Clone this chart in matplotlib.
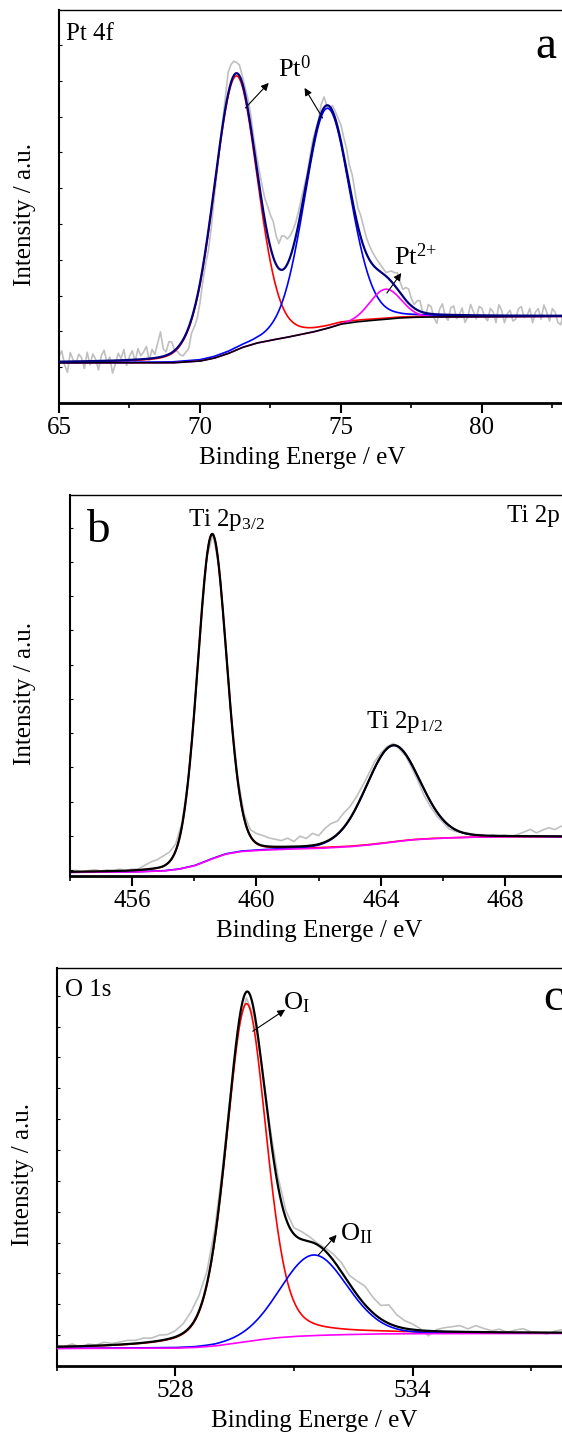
import numpy as np
import matplotlib.pyplot as plt
from matplotlib.ticker import MultipleLocator

plt.rcParams['font.family'] = ['Liberation Serif', 'DejaVu Serif']
plt.rcParams['mathtext.fontset'] = 'custom'
plt.rcParams['mathtext.rm'] = 'Liberation Serif'
plt.rcParams['mathtext.it'] = 'Liberation Serif:italic'

# ---------------- (a) Pt 4f ----------------
pt_start, pt_step = 65.0, 0.1
# raw counts minus fit envelope
pt_resid = [0.15, 0.3, -0.1, -0.3, 0.25, 0.05, -0.05, 0.2, 0.1, -0.2,
            0.25, -0.1, 0.2, 0.05, -0.25, 0.15, 0.3, -0.05, 0.1, -0.35,
            -0.1, 0.2, 0.05, 0.3, -0.15, 0.1, 0.25, -0.05, 0.3, 0.1,
            0.2, 0.35, -0.05, 0.25, 0.1, 0.4, 0.7, 0.2, 0.1, 0.35,
            0.3, 0.0, -0.1, -0.3, -0.45, -0.5, -0.6, -0.4, -0.5, -0.6,
            -0.55, -0.4, -0.4, -0.55, -0.5, -0.3, -0.2, 0.0, 0.1, 0.3,
            0.6, 0.5, 0.4, 0.3, 0.3, 0.2, 0.2, 0.3, 0.35, 0.25,
            0.3, 0.4, 0.5, 0.6, 0.8, 0.9, 1.0, 0.8, 0.7, 0.95,
            0.9, 0.7, 0.6, 0.5, 0.4, 0.35, 0.3, 0.2, 0.1, 0.15,
            0.2, 0.1, 0.05, 0.25, 0.3, 0.0, -0.1, 0.15, 0.2, 0.3,
            0.45, 0.5, 0.6, 0.55, 0.7, 0.6, 0.5, 0.6, 0.55, 0.45,
            0.4, 0.35, 0.3, 0.25, 0.2, 0.15, 0.1, 0.2, 0.3, 0.35,
            0.45, 0.3, 0.2, 0.35, 0.4, 0.2, 0.1, 0.25, 0.3, 0.0,
            -0.1, 0.25, 0.2, -0.1, -0.25, 0.15, 0.3, -0.05, -0.15, 0.2,
            0.25, -0.1, 0.0, 0.2, -0.2, -0.05, 0.3, 0.1, -0.1, 0.25,
            0.2, -0.05, -0.15, 0.2, 0.1, -0.2, 0.3, 0.15, -0.2, 0.05,
            0.15, -0.15, -0.1, 0.2, 0.25, -0.05, 0.0, 0.2, -0.2, 0.1,
            0.2, -0.1, 0.3, 0.1, -0.15, 0.2, 0.1, -0.2, -0.25, 0.15,
            0.2, -0.1, 0.05, 0.25, -0.1]
pt_bg_e = [65, 69, 70, 70.5, 71, 71.5, 72, 72.5, 73, 73.5, 74, 74.5, 75, 75.5,
           76, 76.5, 77, 77.5, 78, 83.5]
pt_bg_y = [1.12, 1.12, 1.17, 1.25, 1.38, 1.55, 1.67, 1.75, 1.82, 1.90, 1.98,
           2.08, 2.20, 2.26, 2.30, 2.33, 2.37, 2.39, 2.40, 2.42]
pt_center = [71.27, 74.5, 76.58]
pt_height = [7.66, 6.15, 0.84]
pt_hw_left = [0.92, 0.95, 0.65]
pt_hw_right = [0.90, 0.95, 0.65]
pt_eta = [0.15, 0.15, 0.0]

# ---------------- (b) Ti 2p ----------------
ti_start, ti_step = 454.0, 0.2
ti_resid = [0.02, 0.04, -0.01, 0.03, 0.05, 0.01, 0.04, 0.02, 0.05, 0.0,
            0.04, 0.03, 0.12, 0.2, 0.24, 0.3, 0.28, 0.2, 0.1, 0.0,
            -0.05, -0.05, 0.0, 0.0, 0.05, 0.05, 0.05, 0.1, 0.12, 0.18,
            0.28, 0.3, 0.25, 0.22, 0.18, 0.25, 0.15, 0.3, 0.22, 0.35,
            0.25, 0.4, 0.45, 0.38, 0.42, 0.35, 0.3, 0.25, 0.2, 0.18,
            0.1, 0.05, 0.05, -0.05, -0.05, -0.1, -0.12, -0.18, -0.15, -0.12,
            -0.08, -0.1, -0.05, 0.0, 0.03, 0.0, 0.02, -0.02, 0.03, 0.0,
            0.02, -0.02, 0.05, 0.12, 0.2, 0.1, 0.18, 0.25, 0.2, 0.3,
            0.22, 0.28, 0.25]
ti_bg_e = [454, 456, 457, 457.5, 458, 458.5, 459, 459.5, 460, 461, 462, 463,
           463.5, 464, 464.5, 465, 465.5, 466, 467, 468, 470.5]
ti_bg_y = [0.93, 0.94, 0.97, 1.02, 1.12, 1.30, 1.46, 1.54, 1.57, 1.61, 1.63,
           1.68, 1.72, 1.77, 1.83, 1.88, 1.91, 1.93, 1.96, 1.97, 1.97]
ti_center = [458.57, 464.39]
ti_height = [9.49, 2.82]
ti_hw_left = [0.55, 1.02]
ti_hw_right = [0.55, 1.02]
ti_eta = [0.1, 0.1]

# ---------------- (c) O 1s ----------------
o_start, o_step = 525.0, 0.2
o_resid = [0.05, 0.0, 0.08, -0.04, 0.06, 0.02, 0.1, 0.05, 0.08, 0.12,
           0.1, 0.15, 0.12, 0.18, 0.15, 0.2, 0.3, 0.45, 0.5, 0.4,
           0.3, 0.2, 0.05, -0.1, -0.2, -0.15, 0.05, 0.2, 0.3, 0.25,
           0.2, 0.25, 0.15, 0.05, 0.1, 0.2, 0.3, 0.27, 0.45, 0.6,
           0.5, 0.44, 0.6, 0.38, 0.25, 0.18, 0.05, -0.16, 0.05, 0.12,
           0.16, 0.2, 0.1, 0.21, 0.12, 0.05, 0.1, 0.0, 0.08, 0.12,
           0.02, 0.0, -0.05, 0.05, 0.1, 0.04, 0.08, 0.02]
o_bg_e = [525, 528, 528.5, 529, 529.5, 530, 530.5, 531, 531.5, 532, 533, 534, 538.5]
o_bg_y = [0.57, 0.58, 0.60, 0.65, 0.74, 0.83, 0.91, 0.96, 0.99, 1.01, 1.04, 1.05, 1.06]
o_center = [529.8, 531.5]
o_height = [10.95, 2.61]
o_hw_left = [0.6, 1.0]
o_hw_right = [0.6, 1.0]
o_eta = [0.3, 0.1]


def pvoigt(x, c, h, wl, wr, eta):
    """Pseudo-Voigt line with separate half widths on each side."""
    w = np.where(x < c, wl, wr)
    u = (x - c) / w
    return h * ((1 - eta) * np.exp(-np.log(2) * u ** 2) + eta / (1 + u ** 2))


def draw_spectrum(ax, xlim, start, step, resid, bg_e, bg_y,
                  center, height, hw_l, hw_r, eta,
                  comp_colors, bg_color, env_color):
    params = list(zip(center, height, hw_l, hw_r, eta))
    x = np.linspace(xlim[0], xlim[1], 1200)
    bg = np.interp(x, bg_e, bg_y)
    comps = [pvoigt(x, *p) for p in params]
    env = bg + np.sum(comps, axis=0)

    # measured trace = fit envelope + residual
    xr = start + step * np.arange(len(resid))
    env_r = np.interp(xr, bg_e, bg_y) + np.sum([pvoigt(xr, *p) for p in params], axis=0)
    ax.plot(xr, env_r + np.array(resid), color='#c0c0c0', lw=1.2, zorder=1)

    for comp, col in zip(comps, comp_colors):
        ax.plot(x, bg + comp, color=col, lw=1.2, zorder=2)
    ax.plot(x, bg, color=bg_color, lw=1.2, zorder=3)
    ax.plot(x, env, color=env_color, lw=1.6, zorder=4)


def style_axes(ax, xlim, ylim, major, minor, yticks, xlab_x, ylab_x):
    ax.set_xlim(*xlim)
    ax.set_ylim(*ylim)
    ax.xaxis.set_major_locator(MultipleLocator(major))
    ax.xaxis.set_minor_locator(MultipleLocator(minor))
    ax.set_yticks(yticks)
    ax.set_yticklabels([])
    ax.tick_params(axis='x', which='major', direction='out', length=7, width=1.5,
                   labelsize=18, pad=3)
    ax.tick_params(axis='x', which='minor', direction='out', length=3.5, width=1.2)
    ax.tick_params(axis='y', which='major', direction='in', length=2.5, width=0.8)
    ax.spines['bottom'].set_linewidth(2.0)
    ax.spines['left'].set_linewidth(1.5)
    ax.spines['top'].set_linewidth(1.0)
    ax.spines['right'].set_visible(False)
    ax.set_xlabel('Binding Energe / eV', fontsize=18, labelpad=6)
    ax.xaxis.label.set_x(xlab_x)
    ax.set_ylabel('Intensity / a.u.', fontsize=18)
    ax.yaxis.set_label_coords(ylab_x, 0.48)


def arrow(ax, tail, head):
    ax.annotate('', xy=head, xytext=tail,
                arrowprops=dict(arrowstyle='-|>', color='k', lw=0.8,
                                mutation_scale=11, shrinkA=0, shrinkB=0))


fig = plt.figure(figsize=(5.62, 14.36), dpi=100)

# (a)
ax_a = fig.add_axes([0.105, 0.7194, 0.928, 0.2737])
draw_spectrum(ax_a, (65, 83.5), pt_start, pt_step, pt_resid, pt_bg_e, pt_bg_y,
              pt_center, pt_height, pt_hw_left, pt_hw_right, pt_eta,
              ['red', 'blue', 'magenta'], 'black', '#000080')
style_axes(ax_a, (65, 83.5), (0, 10.98), 5, 2.5, np.arange(1, 11), 0.466, -0.044)
ax_a.text(65.25, 10.14, 'Pt 4f', fontsize=18)
ax_a.text(81.9, 9.64, 'a', fontsize=34)
ax_a.text(72.77, 9.1, r'Pt$^\mathregular{0}$', fontsize=19)
ax_a.text(76.88, 3.85, r'Pt$^\mathregular{2{+}}$', fontsize=19)
arrow(ax_a, (71.61, 8.24), (72.44, 8.94))
arrow(ax_a, (74.35, 7.96), (73.71, 8.80))
arrow(ax_a, (76.63, 3.07), (77.14, 3.63))

# (b)
ax_b = fig.add_axes([0.1244, 0.3900, 0.913, 0.2653])
draw_spectrum(ax_b, (454, 470.5), ti_start, ti_step, ti_resid, ti_bg_e, ti_bg_y,
              ti_center, ti_height, ti_hw_left, ti_hw_right, ti_eta,
              ['red', 'blue'], 'magenta', 'black')
style_axes(ax_b, (454, 470.5), (0.825, 11.96), 4, 2, np.arange(1, 12), 0.485, -0.066)
ax_b.text(454.52, 10.59, 'b', fontsize=34)
ax_b.text(468.05, 11.18, 'Ti 2p', fontsize=18)
ax_b.text(457.8, 11.04, r'Ti 2p$_\mathregular{3/2}$', fontsize=18)
ax_b.text(463.51, 5.14, r'Ti 2p$_\mathregular{1/2}$', fontsize=18)

# (c)
ax_c = fig.add_axes([0.1007, 0.0487, 0.950, 0.2772])
draw_spectrum(ax_c, (525, 538.5), o_start, o_step, o_resid, o_bg_e, o_bg_y,
              o_center, o_height, o_hw_left, o_hw_right, o_eta,
              ['red', 'blue'], 'magenta', 'black')
style_axes(ax_c, (525, 538.5), (0, 12.9), 6, 3, np.arange(1, 13), 0.483, -0.042)
ax_c.text(525.2, 11.98, 'O 1s', fontsize=18)
ax_c.text(537.3, 11.55, 'c', fontsize=34)
ax_c.text(530.73, 11.55, r'O$_\mathregular{I}$', fontsize=19)
ax_c.text(532.17, 4.08, r'O$_\mathregular{II}$', fontsize=19)
arrow(ax_c, (529.96, 10.85), (530.78, 11.55))
arrow(ax_c, (531.62, 3.60), (532.08, 4.25))

fig.savefig('out.png', dpi=100)
